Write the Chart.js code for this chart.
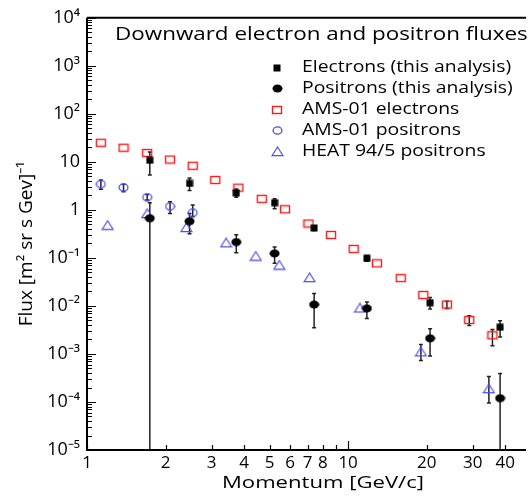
<!DOCTYPE html>
<html>
<head>
<meta charset="utf-8">
<script src="https://cdn.jsdelivr.net/npm/chart.js@4"></script>
<style>
html, body { margin: 0; padding: 0; background: #fff; }
</style>
</head>
<body>
<canvas id="chart1" width="531" height="498"></canvas>
<script>
// Data (momentum in GeV/c, flux in [m2 sr s GeV]^-1)
const binP = [1.74, 2.47, 3.73, 5.23, 7.41, 11.8, 20.6, 38.2];

const eleFlux = [10.8, 3.55, 2.26, 1.41, 0.42, 0.098, 0.0117, 0.0036];
const eleHi   = [16.0, 4.6, 2.73, 1.70, 0.47, 0.111, 0.0149, 0.0049];
const eleLo   = [5.35, 2.52, 1.84, 1.06, 0.37, 0.085, 0.0086, 0.00226];

const posFlux = [0.67, 0.58, 0.214, 0.124, 0.0107, 0.0089, 0.00212, 0.00012];
const posHi   = [1.41, 0.84, 0.303, 0.169, 0.0182, 0.0121, 0.00334, 0.00039];
const posLo   = [1e-6, 0.317, 0.128, 0.0773, 0.0035, 0.0055, 0.00091, 1e-6];

const amsEleP    = [1.13, 1.38, 1.70, 2.08, 2.54, 3.10, 3.80, 4.67, 5.73, 7.05, 8.60, 10.5, 12.9, 15.9, 19.4, 23.9, 29.1, 35.7];
const amsEleFlux = [25, 19.7, 15.3, 11.2, 8.3, 4.2, 2.9, 1.7, 1.03, 0.52, 0.30, 0.154, 0.077, 0.038, 0.0169, 0.0107, 0.0051, 0.00245];
const amsEleHi   = [null, null, null, null, null, null, null, null, null, null, null, null, null, null, null, 0.0125, 0.00628, 0.00324];
const amsEleLo   = [null, null, null, null, null, null, null, null, null, null, null, null, null, null, null, 0.00885, 0.00392, 0.00148];

const amsPosP    = [1.13, 1.38, 1.70, 2.08, 2.54];
const amsPosFlux = [3.45, 2.94, 1.84, 1.19, 0.87];
const amsPosHi   = [4.2, 3.4, 2.1, 1.48, 1.26];
const amsPosLo   = [2.7, 2.4, 1.6, 0.84, 0.72];

const heatP    = [1.20, 1.70, 2.40, 3.41, 4.43, 5.45, 7.12, 11.1, 19.0, 34.6];
const heatFlux = [0.48, 0.84, 0.43, 0.207, 0.109, 0.071, 0.039, 0.0091, 0.00111, 0.00019];
const heatHi   = [null, null, null, null, null, null, null, null, 0.00157, 0.00034];
const heatLo   = [null, null, null, null, null, null, null, null, 0.00073, 0.000095];

const xTickLabels = [1, 2, 3, 4, 5, 6, 7, 8, 10, 20, 30, 40];
const yTickExps = [-5, -4, -3, -2, -1, 0, 1, 2, 3, 4];

const seriesNames = ['Electrons (this analysis)', 'Positrons (this analysis)', 'AMS-01 electrons', 'AMS-01 positrons', 'HEAT 94/5 positrons'];
const chartTitle = 'Downward electron and positron fluxes';
const xTitle = 'Momentum [GeV/c]';
const yTitle = 'Flux [m² sr s Gev]⁻¹';

const FONT = '"Open Sans", sans-serif';
const BLUE = '#4d4df2';

// marker images
const marker = (w, h, draw) => {
    const c = document.createElement('canvas');
    c.width = w; c.height = h;
    draw(c.getContext('2d'));
    return c;
};
const mkEle = marker(8, 8, g => { g.fillStyle = '#000'; g.fillRect(0.5, 0.5, 7, 7); });
const mkPos = marker(11, 9, g => {
    g.fillStyle = '#000'; g.beginPath(); g.ellipse(5.5, 4.5, 5, 4, 0, 0, Math.PI * 2); g.fill();
});
const mkAmsEle = marker(12, 10, g => {
    g.strokeStyle = '#ff1a1a'; g.lineWidth = 1.4; g.strokeRect(1.5, 1.5, 9, 7);
});
const mkAmsPos = marker(11, 9, g => {
    g.strokeStyle = BLUE; g.lineWidth = 1.3; g.beginPath(); g.ellipse(5.5, 4.5, 4.4, 3.6, 0, 0, Math.PI * 2); g.stroke();
});
const mkHeat = marker(13, 11, g => {
    g.strokeStyle = BLUE; g.lineWidth = 1.2; g.beginPath();
    g.moveTo(6.5, 1); g.lineTo(12, 9.7); g.lineTo(1, 9.7); g.closePath(); g.stroke();
});
const markers = [mkEle, mkPos, mkAmsEle, mkAmsPos, mkHeat];

const toPoints = (xs, ys, his, los) => xs.map((x, i) => ({ x: x, y: ys[i], hi: his[i], lo: los[i] }));

const sup = n => String(n).split('').map(c => '⁻⁰¹²³⁴⁵⁶⁷⁸⁹'['-0123456789'.indexOf(c)]).join('');

// the original font is a little wider than Open Sans, so stretch it sideways
const wideText = (ctx, text, x, y, sx, align, rot) => {
    ctx.save();
    ctx.translate(x, y);
    if (rot) ctx.rotate(rot);
    ctx.scale(sx, 1);
    ctx.textAlign = align;
    ctx.fillText(text, 0, 0);
    ctx.restore();
};

// error bars, drawn under the markers
const errorBars = {
    id: 'errorBars',
    beforeDatasetsDraw(chart) {
        const { ctx, chartArea: a, scales: { x, y } } = chart;
        ctx.save();
        ctx.beginPath(); ctx.rect(a.left, a.top, a.width, a.height); ctx.clip();
        ctx.strokeStyle = '#222';
        ctx.lineWidth = 1.5;
        chart.data.datasets.forEach(ds => {
            ds.data.forEach(pt => {
                if (pt.hi == null) return;
                const px = x.getPixelForValue(pt.x);
                const top = y.getPixelForValue(pt.hi);
                const bot = y.getPixelForValue(pt.lo);
                ctx.beginPath();
                ctx.moveTo(px, top); ctx.lineTo(px, bot);
                ctx.moveTo(px - 2, top); ctx.lineTo(px + 2, top);
                ctx.moveTo(px - 2, bot); ctx.lineTo(px + 2, bot);
                ctx.stroke();
            });
        });
        ctx.restore();
    }
};

// frame with inward ticks, title, axis titles and legend
const frame = {
    id: 'frame',
    afterDraw(chart) {
        const { ctx, chartArea: a, scales: { x, y } } = chart;
        ctx.save();
        ctx.strokeStyle = '#000';
        ctx.lineWidth = 1.2;
        ctx.beginPath();
        for (let e = -5; e <= 4; e++) {
            for (let k = 1; k <= 9; k++) {
                const v = k * Math.pow(10, e);
                if (v > 1e4) break;
                const py = Math.round(y.getPixelForValue(v)) + 0.5;
                ctx.moveTo(a.left, py); ctx.lineTo(a.left + (k === 1 ? 9 : 5), py);
            }
        }
        for (let e = 0; e <= 1; e++) {
            for (let k = 1; k <= 9; k++) {
                const v = k * Math.pow(10, e);
                if (v > x.max) break;
                const px = Math.round(x.getPixelForValue(v)) + 0.5;
                ctx.moveTo(px, a.bottom); ctx.lineTo(px, a.bottom - (v === 10 ? 9 : 5));
            }
        }
        ctx.stroke();

        ctx.lineWidth = 2;
        ctx.beginPath();
        ctx.moveTo(a.left, a.top); ctx.lineTo(a.right, a.top);
        ctx.moveTo(a.left, a.top); ctx.lineTo(a.left, a.bottom);
        ctx.lineTo(a.right, a.bottom);
        ctx.stroke();

        ctx.fillStyle = '#000';
        ctx.textBaseline = 'middle';
        ctx.font = '19px ' + FONT;
        wideText(ctx, chartTitle, a.left + 28, a.top + 17, 1.18, 'left');

        ctx.font = '15.5px ' + FONT;
        seriesNames.forEach((name, i) => {
            const ly = a.top + 50 + i * 21;
            const m = markers[i];
            ctx.drawImage(m, Math.round(a.left + 190 - m.width / 2), Math.round(ly - m.height / 2));
            wideText(ctx, name, a.left + 215, ly, 1.25, 'left');
        });

        ctx.font = '17px ' + FONT;
        wideText(ctx, xTitle, a.left + 236, a.bottom + 33, 1.3, 'center');

        ctx.font = '19px ' + FONT;
        wideText(ctx, yTitle, 27, a.top + 226, 1, 'center', -Math.PI / 2);
        ctx.restore();
    }
};

const createChart = (ctx) => {
    new Chart(ctx, {
        type: 'scatter',
        data: {
            datasets: [
                { label: seriesNames[0], data: toPoints(binP, eleFlux, eleHi, eleLo), pointStyle: mkEle, pointRadius: 4 },
                { label: seriesNames[1], data: toPoints(binP, posFlux, posHi, posLo), pointStyle: mkPos, pointRadius: 4 },
                { label: seriesNames[2], data: toPoints(amsEleP, amsEleFlux, amsEleHi, amsEleLo), pointStyle: mkAmsEle, pointRadius: 4 },
                { label: seriesNames[3], data: toPoints(amsPosP, amsPosFlux, amsPosHi, amsPosLo), pointStyle: mkAmsPos, pointRadius: 4 },
                { label: seriesNames[4], data: toPoints(heatP, heatFlux, heatHi, heatLo), pointStyle: mkHeat, pointRadius: 4 }
            ]
        },
        options: {
            responsive: false,
            animation: false,
            layout: { padding: { top: 10, right: 0, left: 0, bottom: 0 } },
            scales: {
                x: {
                    type: 'logarithmic',
                    min: 1,
                    max: 48,
                    grid: { display: false, drawTicks: false },
                    border: { display: false },
                    afterBuildTicks: s => { s.ticks = xTickLabels.map(v => ({ value: v })); },
                    afterFit: s => { s.height = 48; },
                    ticks: {
                        autoSkip: false,
                        maxRotation: 0,
                        padding: 3,
                        color: '#000',
                        font: { family: FONT, size: 17 },
                        callback: v => String(v)
                    }
                },
                y: {
                    type: 'logarithmic',
                    min: 1e-5,
                    max: 1e4,
                    grid: { display: false, drawTicks: false },
                    border: { display: false },
                    afterBuildTicks: s => { s.ticks = yTickExps.map(e => ({ value: Math.pow(10, e) })); },
                    afterFit: s => { s.width = 87; },
                    ticks: {
                        autoSkip: false,
                        padding: 7,
                        color: '#000',
                        font: { family: FONT, size: 18 },
                        callback: v => {
                            const e = Math.round(Math.log10(v));
                            if (e === 0) return '1';
                            if (e === 1) return '10';
                            return '10' + sup(e);
                        }
                    }
                }
            },
            plugins: {
                legend: { display: false },
                tooltip: { enabled: false }
            }
        },
        plugins: [errorBars, frame]
    });
};

window.onload = () => {
    createChart(document.getElementById('chart1').getContext('2d'));
};
</script>
</body>
</html>
